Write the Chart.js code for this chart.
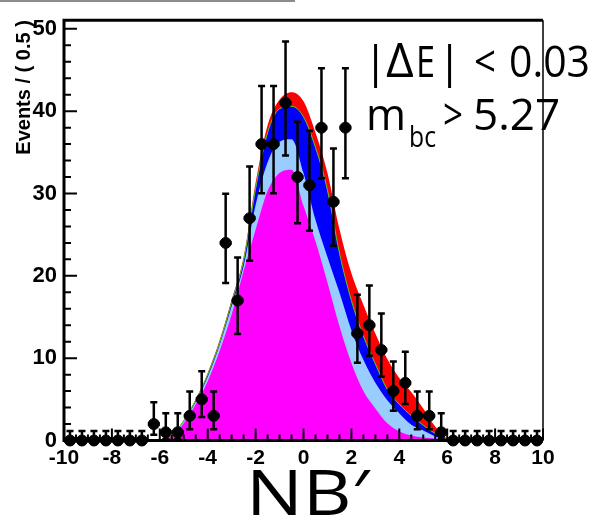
<!DOCTYPE html>
<html>
<head>
<meta charset="utf-8">
<script src="https://cdn.jsdelivr.net/npm/chart.js@4.4.1/dist/chart.umd.min.js"></script>
<style>
  body { margin: 0; background: #fff; }
  canvas { display: block; }
</style>
</head>
<body>
<canvas id="nbChart" width="591" height="519"></canvas>
<script>
// data histogram, 0.5 wide bins
const binCenters = [-9.75, -9.25, -8.75, -8.25, -7.75, -7.25, -6.75, -6.25, -5.75, -5.25,
                    -4.75, -4.25, -3.75, -3.25, -2.75, -2.25, -1.75, -1.25, -0.75, -0.25,
                    0.25, 0.75, 1.25, 1.75, 2.25, 2.75, 3.25, 3.75, 4.25, 4.75,
                    5.25, 5.75, 6.25, 6.75, 7.25, 7.75, 8.25, 8.75, 9.25, 9.75];
const events = [0, 0, 0, 0, 0, 0, 0, 2, 1, 1,
                3, 5, 3, 24, 17, 27, 36, 36, 41, 32,
                31, 38, 29, 38, 13, 14, 11, 6, 7, 3,
                3, 1, 0, 0, 0, 0, 0, 0, 0, 0];
const binHalfWidth = 0.25;

// stacked fit components (cumulative heights)
const fitX = [-6.5, -6, -5.5, -5, -4.5, -4, -3.5, -3, -2.5, -2, -1.5, -1, -0.5,
              0, 0.5, 1, 1.5, 2, 2.5, 3, 3.5, 4, 4.5, 5, 5.5, 6, 6.5];
const fitTotal = [0, 0.1, 0.6, 2.5, 5.0, 8.2, 12.2, 17.1, 22.3, 31.3, 38.3, 41.4, 42.3,
                  41.2, 37.4, 32.5, 25.7, 20.3, 16.5, 13.0, 9.9, 7.6, 5.9, 3.9, 1.7, 0.25, 0];
const fitBlue = [0, 0.1, 0.55, 2.4, 4.9, 8.0, 11.9, 16.8, 21.9, 30.6, 37.4, 40.3, 40.6,
                 39.3, 35.6, 30.4, 22.8, 17.0, 12.7, 9.3, 6.2, 4.4, 3.0, 1.85, 0.85, 0.1, 0];
const fitLightBlue = [0, 0.1, 0.5, 2.3, 4.7, 7.7, 11.6, 16.3, 21.2, 28.6, 33.8, 36.3, 36.6,
                      32.5, 26.8, 22.3, 18.0, 13.4, 9.8, 7.0, 4.9, 3.3, 1.9, 1.2, 0.5, 0.1, 0];
const fitMagenta = [0, 0.08, 0.45, 2.1, 4.4, 7.2, 10.9, 15.3, 20.6, 25.6, 30.3, 32.5, 32.9,
                    28.5, 24.2, 19.2, 13.9, 9.4, 6.0, 3.9, 2.1, 1.1, 0.6, 0.35, 0.25, 0.05, 0];

const xTickValues = [-10, -8, -6, -4, -2, 0, 2, 4, 6, 8, 10];
const yTickValues = [0, 10, 20, 30, 40, 50];
const xTitle = 'NB′';

// asymmetric poisson errors (Gehrels approx.)
function poissonErr(n) {
  if (n === 0) return [0, 1.148];
  const lo = n * Math.pow(1 - 1 / (9 * n) - 1 / (3 * Math.sqrt(n)), 3);
  const hi = n + Math.sqrt(n + 0.75) + 1;
  return [lo, hi];
}

const pts = (xs, ys) => xs.map((x, i) => ({ x: x, y: ys[i] }));

function area(label, ys, color, order, border) {
  return {
    type: 'line',
    label: label,
    data: pts(fitX, ys),
    backgroundColor: color,
    borderColor: border || color,
    borderWidth: border ? 1 : 0,
    fill: 'origin',
    pointRadius: 0,
    cubicInterpolationMode: 'monotone',
    order: order
  };
}

const decorations = {
  id: 'decorations',
  afterDatasetsDraw(chart) {
    const { ctx, chartArea: a, scales: { x, y } } = chart;
    ctx.save();
    ctx.strokeStyle = '#000';
    ctx.fillStyle = '#000';

    // frame
    ctx.lineWidth = 3;
    ctx.beginPath();
    ctx.moveTo(a.right, a.top);
    ctx.lineTo(a.left, a.top);
    ctx.lineTo(a.left, a.bottom);
    ctx.lineTo(a.right, a.bottom);
    ctx.stroke();
    ctx.lineWidth = 1.5;
    ctx.beginPath();
    ctx.moveTo(a.right, a.top);
    ctx.lineTo(a.right, a.bottom);
    ctx.stroke();

    // inward ticks
    ctx.lineWidth = 2;
    ctx.beginPath();
    for (let v = x.min; v <= x.max + 1e-9; v += 0.5) {
      const px = x.getPixelForValue(v);
      const len = Math.abs(v % 2) < 1e-9 ? 12 : 6;
      ctx.moveTo(px, a.bottom);
      ctx.lineTo(px, a.bottom - len);
    }
    for (let v = 0; v <= y.max; v += 2) {
      const py = y.getPixelForValue(v);
      const len = v % 10 === 0 ? 13 : 7;
      ctx.moveTo(a.left, py);
      ctx.lineTo(a.left + len, py);
    }
    ctx.stroke();

    // error bars
    binCenters.forEach((c, i) => {
      const [lo, hi] = poissonErr(events[i]);
      const px = x.getPixelForValue(c);
      const py = y.getPixelForValue(events[i]);
      const pLo = y.getPixelForValue(lo);
      const pHi = y.getPixelForValue(hi);
      ctx.lineWidth = 2.5;
      ctx.beginPath();
      ctx.moveTo(px, pLo);
      ctx.lineTo(px, pHi);
      ctx.moveTo(px - 3.5, pHi);
      ctx.lineTo(px + 3.5, pHi);
      if (events[i] > 0) {
        ctx.moveTo(px - 3.5, pLo);
        ctx.lineTo(px + 3.5, pLo);
      }
      ctx.stroke();
      ctx.lineWidth = 4;
      ctx.beginPath();
      ctx.moveTo(x.getPixelForValue(c - binHalfWidth), py);
      ctx.lineTo(x.getPixelForValue(c + binHalfWidth), py);
      ctx.stroke();
    });

    // grey strip at the very top
    ctx.fillStyle = '#8c8c8c';
    ctx.fillRect(0, 0, 295, 2);

    // cut labels
    ctx.fillStyle = '#000';
    ctx.textBaseline = 'alphabetic';
    ctx.font = '44px "Open Sans"';
    ctx.textAlign = 'center';
    ctx.fillText('|', 375.5, 77);
    ctx.fillText('|', 449.5, 77);
    ctx.textAlign = 'left';
    ctx.fillText('E', 416, 77, 19);
    ctx.fillText('<', 474, 77, 22);
    ctx.fillText('0.03', 509, 77, 81);
    ctx.fillText('m', 366, 130, 40);
    ctx.fillText('>', 443, 130, 20);
    ctx.fillText('5.27', 473, 130, 94);
    ctx.font = '48px "Open Sans"';
    ctx.fillText('Δ', 386, 77);
    ctx.font = '30px "Open Sans"';
    ctx.fillText('bc', 409, 147, 27);

    // x axis title, a little wider than the plain font
    ctx.font = '63px "Open Sans"';
    ctx.textAlign = 'center';
    ctx.translate((a.left + a.right) / 2 + 4, 515);
    ctx.scale(1.2, 1);
    ctx.fillText(xTitle, 0, 0);
    ctx.restore();
  }
};

new Chart(document.getElementById('nbChart'), {
  type: 'scatter',
  data: {
    datasets: [
      {
        label: 'Data',
        data: pts(binCenters, events),
        backgroundColor: '#000',
        borderColor: '#000',
        pointRadius: 5.5,
        pointHoverRadius: 5.5,
        clip: false,
        order: 0
      },
      area('Magenta', fitMagenta, '#ff00ff', 1),
      area('Light blue', fitLightBlue, '#99ccff', 2),
      area('Blue', fitBlue, '#0000ff', 3, '#55cc22'),
      area('Total', fitTotal, '#ff0000', 4)
    ]
  },
  options: {
    responsive: false,
    animation: false,
    layout: { padding: { top: 9, right: 48, left: 0, bottom: 0 } },
    plugins: { legend: { display: false }, tooltip: { enabled: false } },
    scales: {
      x: {
        type: 'linear',
        min: -10,
        max: 10,
        afterBuildTicks: s => { s.ticks = xTickValues.map(v => ({ value: v })); },
        afterFit: s => { s.height = 78.5; },
        grid: { display: false, drawTicks: false },
        border: { display: false },
        ticks: {
          color: '#000',
          padding: 5,
          maxRotation: 0,
          font: { family: 'Arial', size: 21, weight: 'bold' }
        },
        title: { display: false, text: xTitle }
      },
      y: {
        type: 'linear',
        min: 0,
        max: 51.05,
        afterBuildTicks: s => { s.ticks = yTickValues.map(v => ({ value: v })); },
        afterFit: s => { s.width = 64; },
        grid: { display: false, drawTicks: false },
        border: { display: false },
        ticks: {
          color: '#000',
          padding: 7,
          font: { family: 'Arial', size: 22, weight: 'bold' }
        },
        title: {
          display: true,
          text: 'Events / ( 0.5 )',
          align: 'end',
          color: '#000',
          padding: { top: 12, bottom: 0 },
          font: { family: 'Arial', size: 20, weight: 'bold' }
        }
      }
    }
  },
  plugins: [decorations]
});
</script>
</body>
</html>
